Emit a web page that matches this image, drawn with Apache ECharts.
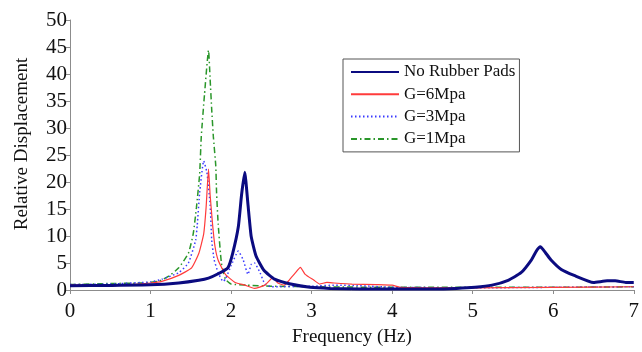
<!DOCTYPE html>
<html>
<head>
<meta charset="utf-8">
<script src="https://cdn.jsdelivr.net/npm/echarts@6/dist/echarts.min.js"></script>
<style>
html,body{margin:0;padding:0;background:#fff;}
#c{width:642px;height:352px;}
</style>
</head>
<body>
<div id="c"></div>
<script>
// ---- data ----
var seriesNames = ['No Rubber Pads', 'G=6Mpa', 'G=3Mpa', 'G=1Mpa'];
var xTicks = [0, 1, 2, 3, 4, 5, 6, 7];
var yTicks = [0, 5, 10, 15, 20, 25, 30, 35, 40, 45, 50];

var noPadFreq = [0, 0.5, 1.0, 1.35, 1.6, 1.72, 1.84, 1.96, 2.02, 2.09, 2.13, 2.17, 2.21, 2.25, 2.31, 2.41, 2.54, 2.74, 2.98, 3.23, 3.6, 4.0, 4.5, 4.8, 5.03, 5.24, 5.44, 5.6, 5.73, 5.79, 5.84, 5.9, 5.97, 6.1, 6.26, 6.5, 6.67, 6.77, 6.9, 7.0];
var noPadVal  = [0.8, 0.85, 0.95, 1.3, 1.8, 2.2, 3.0, 4.1, 6.8, 11.7, 17.6, 21.8, 15.8, 9.9, 6.3, 3.6, 2.0, 1.1, 0.5, 0.3, 0.2, 0.2, 0.2, 0.3, 0.5, 0.9, 1.8, 3.2, 5.6, 7.2, 8.0, 7.0, 5.6, 3.8, 2.7, 1.4, 1.7, 1.7, 1.4, 1.4];

var g6Freq = [0, 0.5, 0.74, 1.0, 1.14, 1.35, 1.51, 1.6, 1.66, 1.69, 1.72, 1.74, 1.77, 1.80, 1.84, 1.93, 2.05, 2.17, 2.29, 2.42, 2.52, 2.58, 2.66, 2.72, 2.8, 2.86, 2.92, 3.03, 3.1, 3.19, 3.28, 3.5, 3.8, 4.0, 4.1, 5.0, 6.0, 7.0];
var g6Val  = [0.9, 0.95, 1.0, 1.3, 1.6, 2.7, 4.1, 6.8, 10.4, 15.3, 22.4, 17.6, 12.2, 8.1, 5.5, 2.9, 1.4, 0.9, 0.3, 0.9, 2.3, 1.3, 0.9, 1.8, 3.2, 4.2, 2.9, 1.8, 1.1, 1.4, 1.3, 1.1, 1.0, 0.9, 0.5, 0.4, 0.5, 0.6];

var g3Freq = [0, 0.5, 1.0, 1.14, 1.35, 1.47, 1.56, 1.58, 1.61, 1.66, 1.70, 1.74, 1.76, 1.79, 1.84, 1.9, 1.93, 2.0, 2.09, 2.15, 2.21, 2.25, 2.29, 2.36, 2.42, 2.5, 3.0, 3.3, 3.6, 4.0, 5.0, 6.0, 7.0];
var g3Val  = [1.0, 1.1, 1.5, 2.0, 3.2, 5.0, 9.2, 12.0, 18.0, 23.9, 21.8, 15.8, 9.2, 5.6, 3.2, 1.6, 2.0, 4.5, 7.2, 5.6, 2.9, 4.7, 5.0, 3.2, 1.1, 0.6, 0.7, 0.9, 0.8, 0.5, 0.4, 0.5, 0.6];

var g1Freq = [0, 0.5, 0.9, 1.1, 1.23, 1.35, 1.47, 1.53, 1.57, 1.61, 1.63, 1.67, 1.72, 1.74, 1.76, 1.78, 1.81, 1.82, 1.84, 1.88, 1.93, 2.0, 2.2, 2.5, 3.0, 4.0, 5.0, 6.0, 7.0];
var g1Val  = [1.0, 1.2, 1.3, 1.6, 2.6, 4.1, 6.8, 10.4, 15.3, 21.5, 28.4, 36.2, 44.4, 39.0, 33.3, 28.4, 23.0, 18.0, 12.2, 5.0, 2.0, 1.1, 0.9, 0.7, 0.6, 0.5, 0.5, 0.5, 0.6];

function pairs(xs, ys) { return xs.map(function (x, i) { return [x, ys[i]]; }); }

var font = '"Liberation Serif", "Times New Roman", serif';
var axisGray = '#8c8c8c';

var chart = echarts.init(document.getElementById('c'), null, { renderer: 'canvas' });
chart.setOption({
  backgroundColor: '#fff',
  animation: false,
  grid: { left: 70, right: 2, top: 20, bottom: 54, containLabel: false },
  legend: {
    left: 343, top: 59,
    orient: 'vertical',
    data: seriesNames,
    backgroundColor: '#fff',
    borderColor: '#555',
    borderWidth: 1,
    borderRadius: 0,
    padding: [4, 4, 4, 7],
    itemWidth: 48,
    itemHeight: 14,
    itemGap: 4.3,
    itemStyle: { opacity: 0 },
    textStyle: { fontFamily: font, fontSize: 17, color: '#111', lineHeight: 18 }
  },
  xAxis: {
    type: 'value', min: xTicks[0], max: xTicks[xTicks.length - 1], interval: 1,
    name: 'Frequency (Hz)', nameLocation: 'middle', nameGap: 38,
    nameTextStyle: { fontFamily: font, fontSize: 19, color: '#111' },
    axisLine: { onZero: false, lineStyle: { color: axisGray, width: 1 } },
    axisTick: { show: true, length: 4, lineStyle: { color: axisGray } },
    axisLabel: { fontFamily: font, fontSize: 21, color: '#111', margin: 11 },
    splitLine: { show: false }
  },
  yAxis: {
    type: 'value', min: yTicks[0], max: yTicks[yTicks.length - 1], interval: 5,
    name: 'Relative Displacement', nameLocation: 'middle', nameGap: 38,
    nameTextStyle: { fontFamily: font, fontSize: 19, color: '#111', padding: [0, 0, 0, 22] },
    axisLine: { show: true, lineStyle: { color: axisGray, width: 1 } },
    axisTick: { show: true, length: 4, lineStyle: { color: axisGray } },
    axisLabel: { fontFamily: font, fontSize: 21, color: '#111', margin: 3 },
    splitLine: { show: false }
  },
  series: [
    { name: seriesNames[0], type: 'line', data: pairs(noPadFreq, noPadVal), symbol: 'none', z: 4, smooth: 0.15,
      lineStyle: { color: '#0b0b80', width: 3 }, itemStyle: { color: '#0b0b80' } },
    { name: seriesNames[1], type: 'line', data: pairs(g6Freq, g6Val), symbol: 'none', z: 3, smooth: 0.15,
      lineStyle: { color: '#ff3b3b', width: 1.2 }, itemStyle: { color: '#ff3b3b' } },
    { name: seriesNames[2], type: 'line', data: pairs(g3Freq, g3Val), symbol: 'none', z: 2, smooth: 0.15,
      lineStyle: { color: '#3a3aff', width: 1.5, type: [1.5, 2.5] }, itemStyle: { color: '#3a3aff' } },
    { name: seriesNames[3], type: 'line', data: pairs(g1Freq, g1Val), symbol: 'none', z: 1, smooth: 0.15,
      lineStyle: { color: '#2a962a', width: 1.5, type: [6, 3, 1.5, 3] }, itemStyle: { color: '#2a962a' } }
  ]
});
</script>
</body>
</html>
